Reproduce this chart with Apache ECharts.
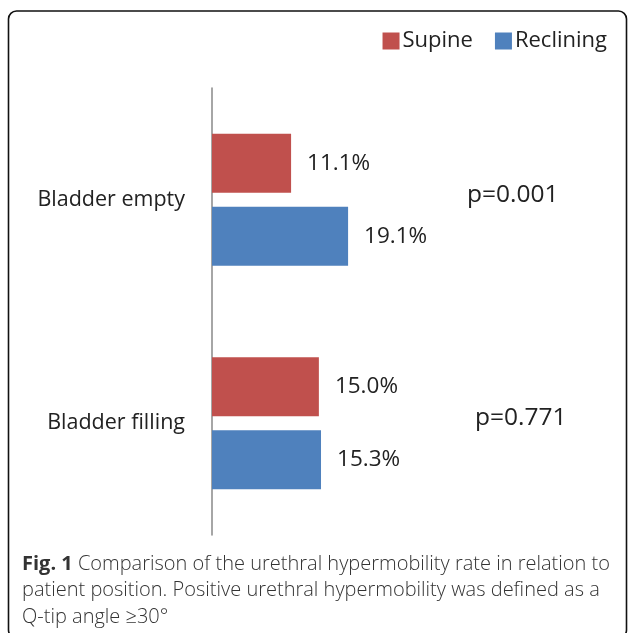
<!DOCTYPE html>
<html>
<head>
<meta charset="utf-8">
<script src="https://cdn.jsdelivr.net/npm/echarts@6/dist/echarts.min.js"></script>
<style>
html, body { margin: 0; padding: 0; background: #fff; }
#main { width: 629px; height: 633px; }
</style>
</head>
<body>
<div id="main"></div>
<script>
// data
var categories = ['Bladder empty', 'Bladder filling'];
var supine = [11.1, 15.0];
var reclining = [19.1, 15.3];
var pValues = ['p=0.001', 'p=0.771'];
var captionLines = [
    ['Fig. 1', ' Comparison of the urethral hypermobility rate in relation to'],
    ['', 'patient position. Positive urethral hypermobility was defined as a'],
    ['', 'Q-tip angle \u226530\u00b0']
];

var chart = echarts.init(document.getElementById('main'));

var font = 'Open Sans';

function pct(p) {
    return p.value.toFixed(1) + '%';
}

var option = {
    animation: false,
    color: ['#C0504D', '#4F81BD'],
    legend: {
        right: 17,
        top: 25,
        itemWidth: 17,
        itemHeight: 17,
        itemGap: 22,
        itemStyle: { borderWidth: 0 },
        icon: 'rect',
        textStyle: { fontFamily: font, fontSize: 22, color: '#222', padding: [0, 0, 0, -2] },
        data: ['Supine', 'Reclining']
    },
    grid: {
        left: 212,
        top: 88,
        width: 285,
        height: 447
    },
    xAxis: {
        type: 'value',
        min: 0,
        max: 40,
        show: false
    },
    yAxis: {
        type: 'category',
        inverse: true,
        data: categories,
        axisLine: { lineStyle: { color: '#888', width: 1.5 } },
        axisTick: { show: false },
        axisLabel: { margin: 27, fontFamily: font, fontSize: 21.5, color: '#222' }
    },
    series: [
        {
            name: 'Supine',
            type: 'bar',
            barWidth: 59,
            barGap: '24%',
            data: supine,
            label: { show: true, position: 'right', distance: 16, formatter: pct,
                fontFamily: font, fontSize: 22.5, color: '#222' }
        },
        {
            name: 'Reclining',
            type: 'bar',
            barWidth: 59,
            barGap: '24%',
            data: reclining,
            label: { show: true, position: 'right', distance: 16, formatter: pct,
                fontFamily: font, fontSize: 22.5, color: '#222' }
        }
    ]
};

chart.setOption(option);

// frame, p-values and caption
var graphics = [{
    type: 'rect',
    shape: { x: 8.5, y: 11, width: 618, height: 627, r: 8 },
    style: { fill: null, stroke: '#111', lineWidth: 1.6 },
    silent: true
}];

categories.forEach(function (c, i) {
    var y = chart.convertToPixel({ yAxisIndex: 0 }, c);
    graphics.push({
        type: 'text',
        x: i === 0 ? 467 : 475,
        y: y - 5,
        style: {
            text: pValues[i],
            fontFamily: font,
            fontSize: 24.5,
            fill: '#222',
            verticalAlign: 'middle'
        }
    });
});

captionLines.forEach(function (ln, i) {
    graphics.push({
        type: 'text',
        x: 22,
        y: 564 + i * 26.5,
        style: {
            text: (ln[0] ? '{b|' + ln[0] + '}' : '') + '{n|' + ln[1] + '}',
            verticalAlign: 'middle',
            rich: {
                b: { fontFamily: 'Open Sans', fontWeight: 'bold', fontSize: 20, fill: '#333' },
                n: { fontFamily: 'Open Sans', fontWeight: 300, fontSize: 20, fill: '#333' }
            }
        }
    });
});

chart.setOption({ graphic: graphics });

window.addEventListener('resize', function () {
    chart.resize();
});
</script>
</body>
</html>
